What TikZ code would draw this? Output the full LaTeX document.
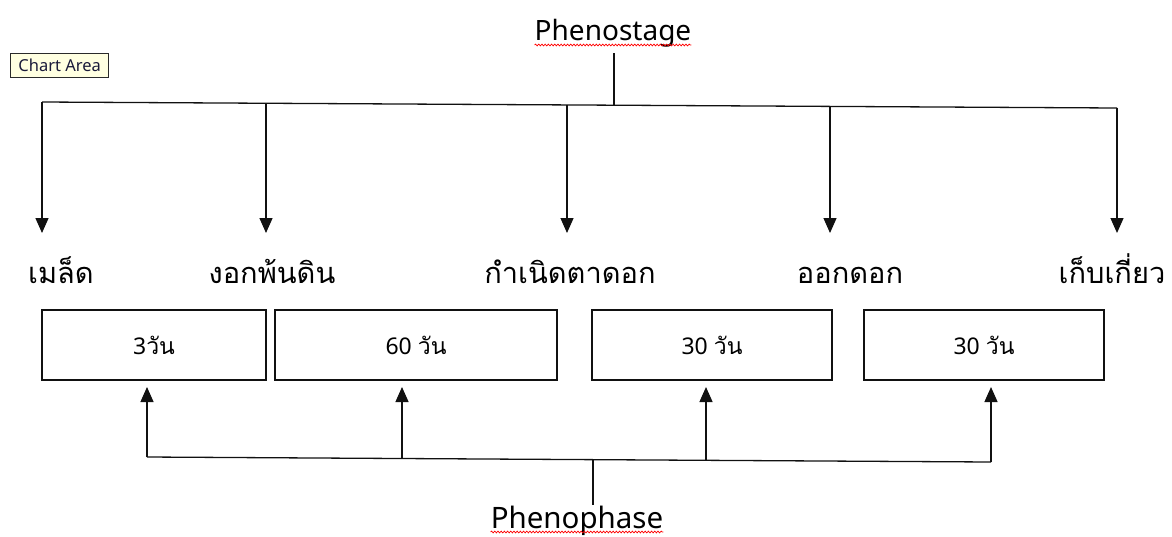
\documentclass[tikz,border=0pt]{standalone}
\usepackage{fontspec}
\setmainfont{Noto Sans}
\newfontfamily\thai[Script=Thai]{Loma}
\usetikzlibrary{arrows.meta,decorations.pathmorphing}
\definecolor{tipfill}{HTML}{FFFFE1}
\definecolor{tipline}{HTML}{2A2A2A}
\definecolor{tipink}{HTML}{1A1A3A}
\definecolor{inkline}{HTML}{111111}
\tikzset{
  wire/.style={draw=inkline,line width=1.3pt},
  arr/.style={wire,-{Triangle[length=15pt,width=13pt]}},
  stagelabel/.style={font=\thai\fontsize{29}{32}\selectfont,anchor=base,inner sep=0pt},
  daybox/.style={draw=inkline,line width=1.3pt,minimum height=70pt,inner sep=0pt,
    font=\fontsize{23}{26}\selectfont},
  title/.style={font=\fontsize{28}{31}\selectfont,anchor=base,inner sep=0pt},
  squiggle/.style={draw=red,line width=0.7pt,decorate,
    decoration={snake,amplitude=0.9pt,segment length=3.2pt}}
}
\begin{document}
\begin{tikzpicture}[x=1pt,y=-1pt]
\useasboundingbox (0,0) rectangle (1172,536);

% tooltip tag
\node[draw=tipline,fill=tipfill,line width=1.3pt,anchor=north west,
  minimum width=98pt,minimum height=24pt,inner sep=0pt,text=tipink,
  font=\fontsize{16.5}{18}\selectfont] (tag) at (10,53) {Chart Area};

% top heading and its branch
\node[title] (stage) at (613,40) {Phenostage};
\draw[squiggle] ([yshift=-5pt]stage.base west) -- ([yshift=-5pt]stage.base east);

\coordinate (t1) at (42,102);
\coordinate (t2) at (266,103.3);
\coordinate (t3) at (567,105);
\coordinate (tj) at (614,105.2);
\coordinate (t4) at (830,106.4);
\coordinate (t5) at (1117,108);
\coordinate (ts) at (614,53);

\draw[wire] (t1) -- (t5);
\draw[wire] (ts) -- (tj);

% stage labels
\node[stagelabel] (l1) at (61,283) {เมล็ด};
\node[stagelabel] (l2) at (272,283) {งอกพ้นดิน};
\node[stagelabel] (l3) at (570,283) {กำเนิดตาดอก};
\node[stagelabel] (l4) at (850,283) {ออกดอก};
\node[stagelabel] (l5) at (1112,283) {เก็บเกี่ยว};

\foreach \i/\x in {1/42,2/266,3/567,4/830,5/1117}
  \coordinate (d\i) at (\x,233);
\foreach \i in {1,...,5}
  \draw[arr] (t\i) -- (d\i);

% duration boxes
\node[daybox,minimum width=224pt] (b1) at (154,345) {3{\thai วัน}};
\node[daybox,minimum width=282pt] (b2) at (416,345) {60 {\thai วัน}};
\node[daybox,minimum width=240pt] (b3) at (712,345) {30 {\thai วัน}};
\node[daybox,minimum width=240pt] (b4) at (984,345) {30 {\thai วัน}};

% bottom heading and its branch
\coordinate (u1) at (147,457);
\coordinate (u2) at (402,458.5);
\coordinate (uj) at (593,459.6);
\coordinate (u3) at (706,460.3);
\coordinate (u4) at (991,462);
\coordinate (up) at (593,505);

\foreach \i/\x in {1/147,2/402,3/706,4/991}
  \coordinate (p\i) at (\x,387);
\foreach \i in {1,...,4}
  \draw[arr] (u\i) -- (p\i);
\draw[wire] (u1) -- (u4);
\draw[wire] (uj) -- (up);

\node[title,font=\fontsize{29.5}{32}\selectfont] (phase) at (577,528) {Phenophase};
\draw[squiggle] ([yshift=-4pt]phase.base west) -- ([yshift=-4pt]phase.base east);
\end{tikzpicture}
\end{document}
